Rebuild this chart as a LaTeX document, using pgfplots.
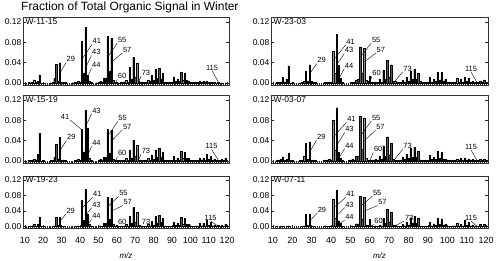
\documentclass[border=0pt]{standalone}
\usepackage{fontspec}
\setmainfont{Liberation Sans}
\setsansfont{Liberation Sans}
\usepackage{pgfplots}
\usepackage{pgfplotstable}
\pgfplotsset{compat=1.18}

\pgfplotstableread{
mz val
12 0.001
13 0.0005
14 0.002
15 0.006
16 0.001
17 0.003
18 0.016
20 0.0005
24 0.0005
25 0.001
26 0.009
27 0.037
28 0.004
29 0.040
30 0.002
31 0.001
32 0.001
36 0.0005
37 0.002
38 0.002
39 0.004
40 0.001
41 0.083
42 0.020
43 0.110
44 0.015
45 0.003
46 0.001
49 0.0005
50 0.002
51 0.003
52 0.001
53 0.010
54 0.010
55 0.092
56 0.024
57 0.088
58 0.005
59 0.002
60 0.001
61 0.0005
62 0.001
63 0.001
64 0.001
65 0.005
66 0.002
67 0.031
68 0.008
69 0.050
70 0.012
71 0.040
72 0.003
73 0.002
74 0.001
75 0.001
76 0.001
77 0.006
78 0.003
79 0.015
80 0.005
81 0.028
82 0.010
83 0.029
84 0.008
85 0.020
86 0.002
87 0.001
88 0.001
89 0.001
90 0.001
91 0.012
92 0.003
93 0.007
94 0.003
95 0.022
96 0.006
97 0.019
98 0.005
99 0.004
100 0.001
101 0.001
102 0.001
103 0.001
104 0.001
105 0.003
106 0.001
107 0.003
108 0.001
109 0.003
110 0.001
111 0.002
112 0.001
113 0.001
115 0.001
117 0.0005
119 0.0005
}\tabA

\pgfplotstableread{
mz val
12 0.001
13 0.001
14 0.002
15 0.011
16 0.002
17 0.008
18 0.034
19 0.0005
20 0.001
24 0.0005
25 0.001
26 0.003
27 0.024
28 0.004
29 0.036
30 0.003
31 0.002
32 0.001
36 0.0005
37 0.001
38 0.001
39 0.002
40 0.001
41 0.063
42 0.019
43 0.096
44 0.035
45 0.010
46 0.001
50 0.001
51 0.002
52 0.001
53 0.006
54 0.008
55 0.071
56 0.020
57 0.069
58 0.005
59 0.004
60 0.014
61 0.002
62 0.001
63 0.002
64 0.001
65 0.008
66 0.002
67 0.025
68 0.008
69 0.045
70 0.012
71 0.036
72 0.003
73 0.004
74 0.001
75 0.001
76 0.001
77 0.006
78 0.002
79 0.012
80 0.003
81 0.023
82 0.007
83 0.027
84 0.008
85 0.020
86 0.003
87 0.001
88 0.001
89 0.001
90 0.001
91 0.011
92 0.002
93 0.008
94 0.003
95 0.021
96 0.006
97 0.021
98 0.004
99 0.007
100 0.001
101 0.001
102 0.001
103 0.002
104 0.001
105 0.009
106 0.002
107 0.007
108 0.002
109 0.012
110 0.003
111 0.010
112 0.002
113 0.003
114 0.001
115 0.002
116 0.001
117 0.004
118 0.001
119 0.006
120 0.001
}\tabB

\pgfplotstableread{
mz val
12 0.001
13 0.001
14 0.002
15 0.003
16 0.002
17 0.013
18 0.054
20 0.001
24 0.001
25 0.001
26 0.007
27 0.033
28 0.003
29 0.047
30 0.002
31 0.002
32 0.001
37 0.001
38 0.001
39 0.003
40 0.001
41 0.062
42 0.018
43 0.100
44 0.064
45 0.006
46 0.001
50 0.002
51 0.003
52 0.001
53 0.007
54 0.008
55 0.062
56 0.016
57 0.061
58 0.004
59 0.002
60 0.002
61 0.001
62 0.001
63 0.001
64 0.001
65 0.005
66 0.002
67 0.022
68 0.006
69 0.041
70 0.010
71 0.031
72 0.002
73 0.002
74 0.001
75 0.001
76 0.001
77 0.005
78 0.002
79 0.012
80 0.004
81 0.022
82 0.008
83 0.025
84 0.008
85 0.018
86 0.002
87 0.001
88 0.001
89 0.001
90 0.001
91 0.010
92 0.002
93 0.006
94 0.002
95 0.020
96 0.005
97 0.017
98 0.005
99 0.005
100 0.001
101 0.001
102 0.001
103 0.001
104 0.001
105 0.006
106 0.002
107 0.005
108 0.002
109 0.013
110 0.003
111 0.009
112 0.002
113 0.003
114 0.001
115 0.002
116 0.001
117 0.003
118 0.001
119 0.005
}\tabC

\pgfplotstableread{
mz val
12 0.002
13 0.002
14 0.003
15 0.008
16 0.002
17 0.004
18 0.015
19 0.001
20 0.001
24 0.001
25 0.002
26 0.010
27 0.035
28 0.004
29 0.038
30 0.002
31 0.002
32 0.001
36 0.001
37 0.002
38 0.002
39 0.004
40 0.002
41 0.080
42 0.022
43 0.105
44 0.017
45 0.005
46 0.001
49 0.001
50 0.002
51 0.004
52 0.002
53 0.010
54 0.010
55 0.089
56 0.023
57 0.085
58 0.005
59 0.002
60 0.001
61 0.001
62 0.002
63 0.003
64 0.002
65 0.010
66 0.003
67 0.030
68 0.010
69 0.048
70 0.012
71 0.035
72 0.003
73 0.002
74 0.001
75 0.002
76 0.002
77 0.007
78 0.003
79 0.014
80 0.005
81 0.026
82 0.008
83 0.027
84 0.008
85 0.020
86 0.002
87 0.002
88 0.001
89 0.002
90 0.002
91 0.011
92 0.003
93 0.007
94 0.003
95 0.020
96 0.005
97 0.018
98 0.004
99 0.004
100 0.002
101 0.002
102 0.001
103 0.002
104 0.002
105 0.004
106 0.002
107 0.005
108 0.002
109 0.006
110 0.002
111 0.004
112 0.002
113 0.003
114 0.001
115 0.002
116 0.001
117 0.003
118 0.001
119 0.003
120 0.002
}\tabD

\pgfplotstableread{
mz val
12 0.001
13 0.001
14 0.002
15 0.005
16 0.001
17 0.005
18 0.025
20 0.0005
25 0.001
26 0.002
27 0.024
28 0.003
29 0.025
30 0.001
31 0.001
37 0.001
38 0.001
39 0.002
40 0.001
41 0.067
42 0.017
43 0.095
44 0.031
45 0.006
46 0.001
50 0.002
51 0.002
52 0.001
53 0.008
54 0.008
55 0.076
56 0.019
57 0.073
58 0.005
59 0.002
60 0.004
61 0.001
62 0.001
63 0.001
64 0.001
65 0.005
66 0.002
67 0.027
68 0.009
69 0.049
70 0.012
71 0.037
72 0.003
73 0.002
74 0.001
75 0.001
76 0.001
77 0.005
78 0.002
79 0.013
80 0.004
81 0.026
82 0.009
83 0.029
84 0.010
85 0.021
86 0.002
87 0.001
88 0.001
89 0.001
90 0.001
91 0.012
92 0.003
93 0.008
94 0.003
95 0.023
96 0.006
97 0.021
98 0.005
99 0.006
100 0.001
101 0.001
102 0.001
103 0.002
104 0.001
105 0.009
106 0.002
107 0.008
108 0.002
109 0.016
110 0.004
111 0.011
112 0.002
113 0.004
114 0.001
115 0.003
116 0.001
117 0.004
118 0.001
119 0.006
120 0.001
}\tabE

\pgfplotstableread{
mz val
12 0.0005
14 0.001
15 0.001
17 0.001
18 0.002
25 0.001
26 0.002
27 0.031
28 0.003
29 0.033
30 0.002
31 0.001
37 0.002
39 0.001
41 0.071
42 0.021
43 0.094
44 0.015
45 0.008
46 0.001
50 0.001
51 0.002
52 0.001
53 0.007
54 0.007
55 0.079
56 0.019
57 0.075
58 0.004
59 0.003
60 0.018
61 0.002
62 0.001
63 0.002
64 0.001
65 0.004
66 0.002
67 0.022
68 0.008
69 0.045
70 0.012
71 0.036
72 0.003
73 0.004
74 0.002
75 0.001
76 0.001
77 0.005
78 0.002
79 0.012
80 0.004
81 0.022
82 0.009
83 0.027
84 0.008
85 0.022
86 0.002
87 0.001
88 0.001
89 0.001
90 0.001
91 0.011
92 0.002
93 0.007
94 0.003
95 0.021
96 0.005
97 0.020
98 0.004
99 0.006
100 0.001
101 0.001
102 0.001
103 0.002
104 0.002
105 0.009
106 0.002
107 0.006
108 0.002
109 0.016
110 0.003
111 0.010
112 0.002
113 0.004
114 0.001
115 0.002
116 0.001
117 0.005
118 0.001
119 0.006
120 0.001
}\tabF

\newcommand{\pkfont}{\fontsize{7.5}{8}\selectfont}
\newcommand{\pk}[6][south west]{%
  \draw[line width=0.4pt] (axis cs:#2,#3) -- (axis cs:#4,#5);
  \node[anchor=#1, inner sep=0.5pt, font=\pkfont] at (axis cs:#2,#3) {#6};}

\pgfplotsset{
  spec/.style={
    scale only axis, anchor=south west, clip=false,
    xmin=9, xmax=121, ymin=-0.004, ymax=0.13,
    axis line style={black!80, line width=0.5pt},
    xtick={10,20,...,120}, minor x tick num=9,
    ytick={0,0.04,0.08,0.12},
    tick align=inside, xtick pos=bottom, ytick pos=both,
    major tick length=3bp, minor tick length=1.6bp,
    tick style={black!85, line width=0.4pt},
    /pgf/number format/assume math mode=true,
    yticklabel style={/pgf/number format/.cd, fixed, fixed zerofill, precision=2},
    ticklabel style={font=\fontsize{8.5}{10}\selectfont, inner sep=1.5pt},
    xticklabels={},
  },
  bars/.style={ybar, bar width=0.7, fill=black!65, draw=black, line width=0.2pt},
  bottomrow/.style={
    xticklabels={10,20,30,40,50,60,70,80,90,100,110,120},
    xticklabel style={yshift=-8bp, font=\fontsize{9}{10}\selectfont},
    xlabel={\textit{m/z}},
    xlabel style={font=\fontsize{8}{9}\selectfont, inner sep=0pt, yshift=-7bp}},
}
\newcommand{\pname}[1]{\node[anchor=west, font=\fontsize{8.5}{10}\selectfont, inner sep=0pt] at (axis cs:10.3,0.12) {#1};}

\begin{document}
\begin{tikzpicture}[x=1bp,y=1bp]
\useasboundingbox (0,0) rectangle (500,260);
\node[anchor=west, font=\fontsize{12}{14}\selectfont, inner sep=0pt] at (21,253) {Fraction of Total Organic Signal in Winter};

% Row 1 left
\begin{axis}[spec, at={(23bp,175bp)}, width=206bp, height=68bp]
\addplot[bars] table[x=mz, y=val] {\tabA};
\pname{W-11-15}
\pk{32.4}{0.040}{29.3}{0.021}{29}
\pk{46.5}{0.076}{41.3}{0.048}{41}
\pk{46.2}{0.054}{43.3}{0.032}{43}
\pk{46.2}{0.029}{44.3}{0.013}{44}
\pk{60.3}{0.079}{55.3}{0.052}{55}
\pk{63.0}{0.059}{57.3}{0.042}{57}
\pk{60.2}{0.007}{59.6}{0.001}{60}
\pk{73.2}{0.014}{71.9}{0.002}{73}
\pk[south]{111.8}{0.024}{115.3}{0.001}{115}
\end{axis}

% Row 1 right
\begin{axis}[spec, at={(271bp,175bp)}, width=217bp, height=68bp]
\addplot[bars] table[x=mz, y=val] {\tabB};
\pname{W-23-03}
\pk{32.6}{0.038}{29.3}{0.020}{29}
\pk{47.6}{0.075}{41.3}{0.046}{41}
\pk{46.8}{0.058}{43.3}{0.038}{43}
\pk{46.8}{0.028}{44.3}{0.011}{44}
\pk{60.8}{0.079}{55.3}{0.052}{55}
\pk{63.2}{0.059}{57.3}{0.042}{57}
\pk{61.0}{0.013}{60.3}{0.004}{60}
\pk{77.0}{0.022}{72.6}{0.002}{73}
\pk[south]{112.2}{0.022}{115.3}{0.001}{115}
\end{axis}

% Row 2 left
\begin{axis}[spec, at={(23bp,97bp)}, width=206bp, height=68bp]
\addplot[bars] table[x=mz, y=val] {\tabC};
\pname{W-15-19}
\pk{32.6}{0.040}{29.3}{0.022}{29}
\pk[south east]{34.5}{0.081}{40.8}{0.062}{41}
\pk{46.3}{0.093}{43.3}{0.070}{43}
\pk{46.3}{0.029}{44.3}{0.012}{44}
\pk{60.5}{0.078}{55.3}{0.050}{55}
\pk{63.0}{0.061}{57.3}{0.040}{57}
\pk{60.3}{0.009}{59.6}{0.001}{60}
\pk{73.2}{0.014}{71.9}{0.002}{73}
\pk[south]{111.5}{0.023}{115.3}{0.001}{115}
\end{axis}

% Row 2 right
\begin{axis}[spec, at={(271bp,97bp)}, width=217bp, height=68bp]
\addplot[bars] table[x=mz, y=val] {\tabD};
\pname{W-03-07}
\pk{32.5}{0.041}{29.3}{0.020}{29}
\pk{48.0}{0.076}{41.3}{0.048}{41}
\pk{47.0}{0.056}{43.3}{0.033}{43}
\pk{47.0}{0.024}{44.3}{0.008}{44}
\pk{60.8}{0.079}{55.3}{0.050}{55}
\pk{63.0}{0.061}{57.3}{0.040}{57}
\pk{61.8}{0.017}{60.2}{0.002}{60}
\pk{77.0}{0.023}{72.5}{0.002}{73}
\pk[south]{112.2}{0.022}{115.3}{0.001}{115}
\end{axis}

% Row 3 left
\begin{axis}[spec, bottomrow, at={(23bp,32bp)}, width=206bp, height=52bp]
\addplot[bars] table[x=mz, y=val] {\tabE};
\pname{W-19-23}
\pk{32.3}{0.032}{29.3}{0.014}{29}
\pk{46.8}{0.075}{41.3}{0.048}{41}
\pk{46.3}{0.048}{43.3}{0.030}{43}
\pk{46.3}{0.018}{44.3}{0.006}{44}
\pk{61.0}{0.078}{55.3}{0.052}{55}
\pk{63.3}{0.054}{57.3}{0.040}{57}
\pk{60.3}{0.002}{59.8}{0.000}{60}
\pk{73.3}{0.004}{72.2}{0.000}{73}
\pk[south]{111.0}{0.014}{115.3}{0.000}{115}
\end{axis}

% Row 3 right
\begin{axis}[spec, bottomrow, at={(271bp,32bp)}, width=217bp, height=52bp]
\addplot[bars] table[x=mz, y=val] {\tabF};
\pname{W-07-11}
\pk{32.8}{0.034}{29.3}{0.016}{29}
\pk{47.6}{0.075}{41.3}{0.048}{41}
\pk{47.0}{0.048}{43.3}{0.030}{43}
\pk{47.0}{0.016}{44.3}{0.006}{44}
\pk{61.3}{0.078}{55.3}{0.052}{55}
\pk{64.0}{0.054}{57.3}{0.040}{57}
\pk{62.0}{0.005}{60.5}{0.000}{60}
\pk{77.8}{0.014}{73.3}{0.002}{73}
\pk[south]{112.2}{0.014}{115.3}{0.000}{115}
\end{axis}
\end{tikzpicture}
\end{document}
